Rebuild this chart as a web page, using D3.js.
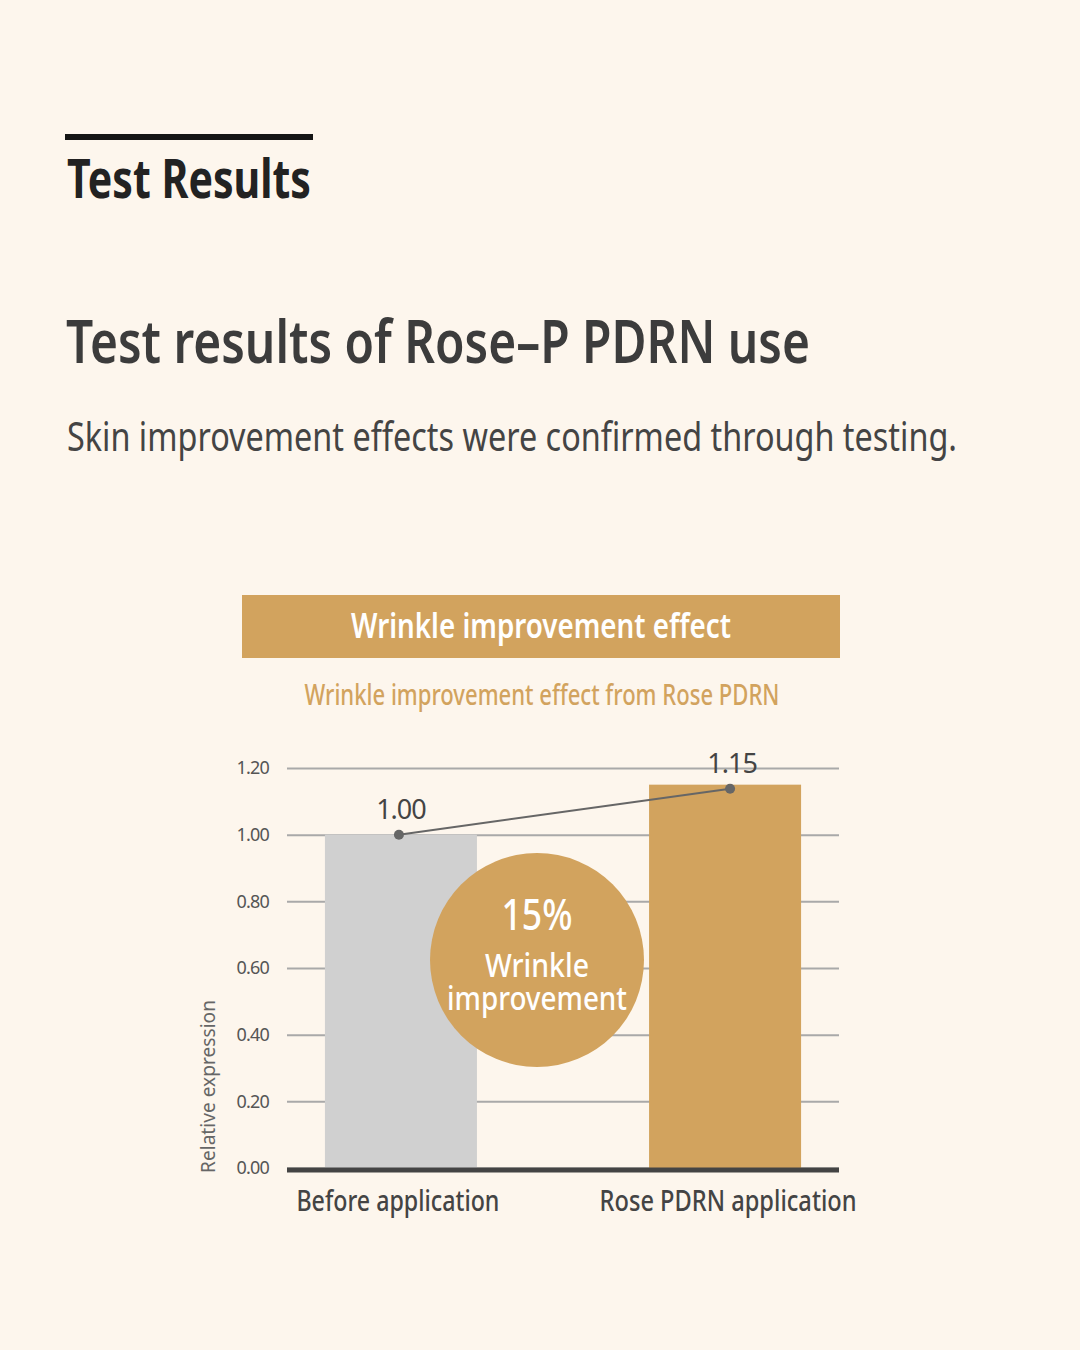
<!DOCTYPE html>
<html>
<head>
<meta charset="utf-8">
<script src="https://cdn.jsdelivr.net/npm/d3@7"></script>
<style>
  html, body { margin: 0; padding: 0; background: #fdf6ed; }
  svg { display: block; font-family: "Noto Sans", "Open Sans", sans-serif; }
</style>
</head>
<body>
<div id="chart"></div>
<script>
// chart values
const categories = ['Before application', 'Rose PDRN application'];
const values = [1.00, 1.15];
const valueLabels = ['1.00', '1.15'];
const yTicks = [0, 0.2, 0.4, 0.6, 0.8, 1.0, 1.2];
const badgeLines = ['15%', 'Wrinkle', 'improvement'];

const pageTitle = 'Test Results';
const headline = 'Test results of Rose\u2013P PDRN use';
const subline = 'Skin improvement effects were confirmed through testing.';
const boxTitle = 'Wrinkle improvement effect';
const chartTitle = 'Wrinkle improvement effect from Rose PDRN';
const yLabel = 'Relative expression';

const config = {
  width: 1080,
  height: 1350,
  plot: {left: 287, right: 839, top: 768, bottom: 1168},
  gold: '#d2a35e',
  grey: '#d0d0d0'
};

const svg = d3.select('#chart').append('svg')
    .attr('width', config.width)
    .attr('height', config.height);

svg.append('rect')
    .attr('width', config.width)
    .attr('height', config.height)
    .attr('fill', '#fdf6ed');

// squeeze text to the condensed width of the original lettering
function fit(sel, w) {
  return sel.attr('textLength', w).attr('lengthAdjust', 'spacingAndGlyphs');
}

// --- header texts
svg.append('rect')
    .attr('x', 65).attr('y', 134)
    .attr('width', 248).attr('height', 6)
    .attr('fill', '#151515');

svg.append('text')
    .attr('x', 67).attr('y', 198)
    .attr('font-size', 54).attr('font-weight', 700)
    .attr('fill', '#222')
    .text(pageTitle)
    .call(fit, 244);

svg.append('text')
    .attr('x', 66).attr('y', 363)
    .attr('font-size', 59).attr('font-weight', 600)
    .attr('fill', '#3c3c3c')
    .text(headline)
    .call(fit, 744);

svg.append('text')
    .attr('x', 67).attr('y', 451)
    .attr('font-size', 40).attr('font-weight', 400)
    .attr('fill', '#444')
    .text(subline)
    .call(fit, 890);

// --- chart title box
svg.append('rect')
    .attr('x', 242).attr('y', 595)
    .attr('width', 598).attr('height', 63)
    .attr('fill', config.gold);

svg.append('text')
    .attr('x', 541).attr('y', 638)
    .attr('text-anchor', 'middle')
    .attr('font-size', 35).attr('font-weight', 600)
    .attr('fill', '#fff')
    .text(boxTitle)
    .call(fit, 380);

svg.append('text')
    .attr('x', 542).attr('y', 705)
    .attr('text-anchor', 'middle')
    .attr('font-size', 28).attr('font-weight', 500)
    .attr('fill', config.gold)
    .text(chartTitle)
    .call(fit, 475);

// --- scales
const p = config.plot;
const x = d3.scaleBand()
    .domain(categories)
    .range([p.left, p.right])
    .paddingInner(0.531)
    .paddingOuter(0.117);

const y = d3.scaleLinear()
    .domain([0, 1.2])
    .range([p.bottom, p.top]);

// gridlines + tick labels
const yAxis = svg.append('g')
    .attr('transform', `translate(${p.left},0)`)
    .call(d3.axisLeft(y)
      .tickValues(yTicks)
      .tickSize(-(p.right - p.left))
      .tickPadding(18)
      .tickFormat(d3.format('.2f')));

yAxis.select('.domain').remove();
yAxis.selectAll('.tick line')
    .attr('stroke', '#a9a9a9')
    .attr('stroke-width', 2);
yAxis.selectAll('.tick text')
    .attr('font-size', 18)
    .attr('fill', '#555')
    .attr('font-family', '"Noto Sans", sans-serif')
    .attr('letter-spacing', -0.8);

// bars
svg.append('g')
  .selectAll('rect')
  .data(values)
  .join('rect')
    .attr('x', (d, i) => x(categories[i]))
    .attr('y', d => y(d))
    .attr('width', x.bandwidth())
    .attr('height', d => y(0) - y(d) + 2)
    .attr('fill', (d, i) => i === 0 ? config.grey : config.gold);

// baseline
svg.append('line')
    .attr('x1', p.left).attr('x2', p.right)
    .attr('y1', y(0) + 2).attr('y2', y(0) + 2)
    .attr('stroke', '#444')
    .attr('stroke-width', 5);

// x labels
svg.append('g')
  .selectAll('text')
  .data(categories)
  .join('text')
    .attr('x', d => x(d) + x.bandwidth() / 2 + (d === categories[0] ? -3 : 3))
    .attr('y', 1211)
    .attr('text-anchor', 'middle')
    .attr('font-size', 28).attr('font-weight', 500)
    .attr('fill', '#444')
    .text(d => d)
    .each(function(d, i) { d3.select(this).call(fit, i === 0 ? 203 : 257); });

// y axis title
svg.append('text')
    .attr('transform', `translate(215,${(1000 + 1173) / 2}) rotate(-90)`)
    .attr('text-anchor', 'middle')
    .attr('font-size', 19)
    .attr('fill', '#666')
    .text(yLabel)
    .call(fit, 173);

// connecting line and points
const pts = values.map((v, i) => [x(categories[i]) + x.bandwidth() / 2 + (i === 0 ? -2 : 5), y(v) + (i === 0 ? 0 : 4)]);

svg.append('path')
    .attr('d', d3.line()(pts))
    .attr('fill', 'none')
    .attr('stroke', '#666')
    .attr('stroke-width', 2);

svg.append('g')
  .selectAll('circle')
  .data(pts)
  .join('circle')
    .attr('cx', d => d[0])
    .attr('cy', d => d[1])
    .attr('r', 5)
    .attr('fill', '#666');

svg.append('g')
  .selectAll('text')
  .data(pts)
  .join('text')
    .attr('x', d => d[0] + 2)
    .attr('y', d => d[1] - 16)
    .attr('text-anchor', 'middle')
    .attr('font-size', 27)
    .attr('fill', '#444')
    .attr('letter-spacing', -1)
    .text((d, i) => valueLabels[i]);

// improvement badge
const badge = svg.append('g').attr('transform', 'translate(537,960)');
badge.append('circle')
    .attr('r', 107)
    .attr('fill', config.gold);

badge.selectAll('text')
  .data(badgeLines)
  .join('text')
    .attr('x', 0)
    .attr('y', (d, i) => [-30, 17, 50][i])
    .attr('text-anchor', 'middle')
    .attr('font-size', (d, i) => i === 0 ? 44 : 32)
    .attr('font-weight', 500)
    .attr('fill', '#fff')
    .text(d => d)
    .each(function(d, i) { d3.select(this).call(fit, [71, 104, 180][i]); });
</script>
</body>
</html>
